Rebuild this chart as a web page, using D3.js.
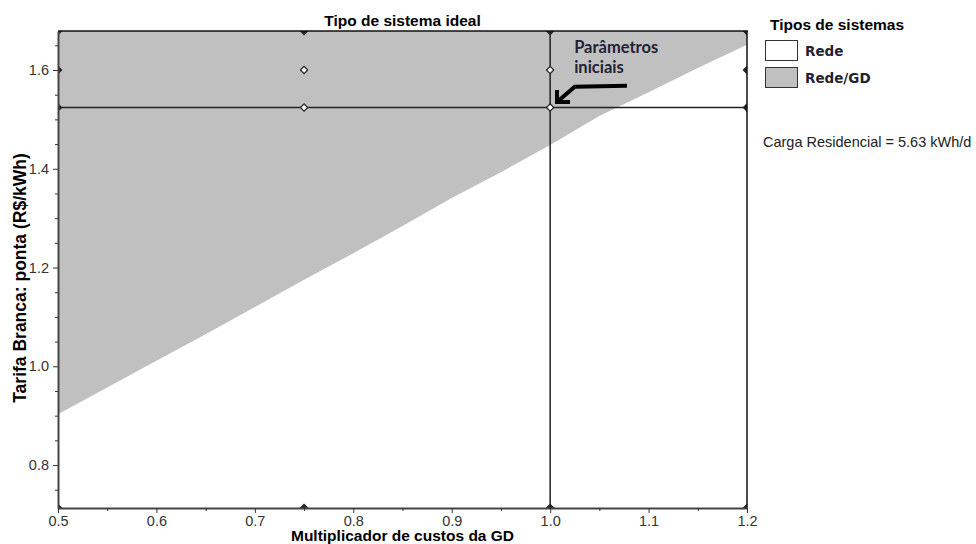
<!DOCTYPE html>
<html>
<head>
<meta charset="utf-8">
<script src="https://cdn.jsdelivr.net/npm/d3@7"></script>
<style>
  body { margin: 0; background: #fff; }
  svg { display: block; }
</style>
</head>
<body>
<div id="chart"></div>
<script>
// boundary between "Rede" (below) and "Rede/GD" (above)
const boundaryX = [0.50, 0.55, 0.60, 0.65, 0.70, 0.75, 0.80, 0.85, 0.90, 0.95, 1.00, 1.05, 1.10, 1.15, 1.20];
const boundaryY = [0.903, 0.957, 1.011, 1.065, 1.120, 1.175, 1.229, 1.284, 1.341, 1.393, 1.448, 1.507, 1.555, 1.604, 1.651];

// sampled parameter grid (diamond markers)
const gridX = [0.5, 0.75, 1.0, 1.2];
const gridY = [0.713, 1.524, 1.6, 1.679];

const xDomain = [0.5, 1.2];
const yDomain = [0.713, 1.679];
const xTicks = [0.5, 0.6, 0.7, 0.8, 0.9, 1.0, 1.1, 1.2];
const xMinor = [0.55, 0.65, 0.75, 0.85, 0.95, 1.05, 1.15];
const yTicks = [0.8, 1.0, 1.2, 1.4, 1.6];
const yMinor = [0.75, 0.85, 0.9, 0.95, 1.05, 1.1, 1.15, 1.25, 1.3, 1.35, 1.45, 1.5, 1.55, 1.65];

const initial = { x: 1.0, y: 1.524 };
const systems = ["Rede", "Rede/GD"];
const systemColors = ["#ffffff", "#c0c0c0"];

// arrow for "Parâmetros iniciais"
const arrowPts = [[1.078, 1.568], [1.025, 1.566], [1.007, 1.535]];

const W = 976, H = 544;
const mLeft = 58, mRight = 747, mTop = 31, mBottom = 508;

const svg = d3.select("#chart").append("svg")
  .attr("width", W)
  .attr("height", H)
  .style("font-family", "'Liberation Sans', Arial, sans-serif");

const x = d3.scaleLinear().domain(xDomain).range([mLeft, mRight]);
const y = d3.scaleLinear().domain(yDomain).range([mBottom, mTop]);

svg.append("clipPath").attr("id", "plot")
  .append("rect")
  .attr("x", mLeft).attr("y", mTop)
  .attr("width", mRight - mLeft).attr("height", mBottom - mTop);

const plot = svg.append("g").attr("clip-path", "url(#plot)");

// gray Rede/GD region above the boundary
const boundary = boundaryX.map((v, i) => ({ x: v, y: boundaryY[i] }));
plot.append("path")
  .datum(boundary)
  .attr("fill", systemColors[1])
  .attr("d", d3.area()
    .x(d => x(d.x))
    .y0(mTop - 2)
    .y1(d => y(d.y)));

// initial-parameter lines
plot.append("line")
  .attr("x1", x(initial.x)).attr("x2", x(initial.x))
  .attr("y1", mTop).attr("y2", mBottom)
  .attr("stroke", "#222").attr("stroke-width", 1.5);
plot.append("line")
  .attr("x1", mLeft).attr("x2", mRight)
  .attr("y1", y(initial.y)).attr("y2", y(initial.y))
  .attr("stroke", "#222").attr("stroke-width", 1.5);

// diamonds (the ones on the frame look solid)
const onEdge = d => d.x === xDomain[0] || d.x === xDomain[1] || d.y === yDomain[0] || d.y === yDomain[1];
const cells = gridY.flatMap(gy => gridX.map(gx => ({ x: gx, y: gy })));
plot.selectAll(".mark")
  .data(cells)
  .enter()
  .append("path")
  .attr("class", "mark")
  .attr("transform", d => `translate(${x(d.x)},${y(d.y)}) rotate(45)`)
  .attr("d", d3.symbol(d3.symbolSquare, 26)())
  .attr("fill", d => onEdge(d) ? "#222" : "#fff")
  .attr("stroke", "#222")
  .attr("stroke-width", 1.2);

// frame
svg.append("line").attr("x1", mLeft).attr("x2", mRight + 1).attr("y1", mTop).attr("y2", mTop)
  .attr("stroke", "#111").attr("stroke-width", 1.5);
svg.append("line").attr("x1", mRight).attr("x2", mRight).attr("y1", mTop).attr("y2", mBottom)
  .attr("stroke", "#111").attr("stroke-width", 1.5);

// axes
const xAxis = svg.append("g")
  .attr("transform", `translate(0,${mBottom})`)
  .call(d3.axisBottom(x).tickValues(xTicks).tickSize(5).tickSizeOuter(0).tickFormat(d3.format(".1f")));
svg.append("g")
  .attr("transform", `translate(0,${mBottom})`)
  .call(d3.axisBottom(x).tickValues(xMinor).tickSize(3).tickSizeOuter(0).tickFormat(""))
  .call(g => g.select(".domain").remove());

const yAxis = svg.append("g")
  .attr("transform", `translate(${mLeft},0)`)
  .call(d3.axisLeft(y).tickValues(yTicks).tickSize(5).tickSizeOuter(0).tickFormat(d3.format(".1f")));
svg.append("g")
  .attr("transform", `translate(${mLeft},0)`)
  .call(d3.axisLeft(y).tickValues(yMinor).tickSize(3).tickSizeOuter(0).tickFormat(""))
  .call(g => g.select(".domain").remove());

svg.selectAll(".domain").attr("stroke", "#444").attr("stroke-width", 2);
svg.selectAll(".tick line").attr("stroke", "#333");
xAxis.selectAll("text").attr("dy", "0.75em").attr("y", 7);
svg.selectAll(".tick text")
  .attr("font-size", 14.5)
  .attr("font-family", "'Liberation Sans', Arial, sans-serif")
  .attr("fill", "#333");
yAxis.selectAll("text").attr("x", -9);

// titles
svg.append("text")
  .attr("x", (mLeft + mRight) / 2).attr("y", 26)
  .attr("text-anchor", "middle")
  .attr("font-weight", "bold").attr("font-size", 15.5)
  .text("Tipo de sistema ideal");

svg.append("text")
  .attr("x", (mLeft + mRight) / 2).attr("y", 541)
  .attr("text-anchor", "middle")
  .attr("font-weight", "bold").attr("font-size", 15.5)
  .text("Multiplicador de custos da GD");

svg.append("text")
  .attr("transform", "translate(26,278) rotate(-90)")
  .attr("text-anchor", "middle")
  .attr("font-weight", "bold").attr("font-size", 17.5)
  .text("Tarifa Branca: ponta (R$/kWh)");

// annotation
svg.append("path")
  .datum(arrowPts)
  .attr("d", d3.line().x(d => x(d[0])).y(d => y(d[1])))
  .attr("fill", "none")
  .attr("stroke", "#000")
  .attr("stroke-width", 4);
const tip = arrowPts[arrowPts.length - 1];
svg.append("path")
  .attr("d", `M${x(tip[0])},${y(tip[1]) - 12}V${y(tip[1])}H${x(tip[0]) + 13}`)
  .attr("fill", "none")
  .attr("stroke", "#000")
  .attr("stroke-width", 4);

const note = svg.append("text")
  .attr("font-family", "Lato, 'Open Sans', sans-serif")
  .attr("font-weight", "bold")
  .attr("font-size", 16.5)
  .attr("fill", "#1f2235");
note.append("tspan").attr("x", x(1.0244)).attr("y", y(1.634)).text("Parâmetros");
note.append("tspan").attr("x", x(1.0244)).attr("y", y(1.634) + 20).text("iniciais");

// legend
const legend = svg.append("g").attr("transform", "translate(765,0)");
legend.append("text")
  .attr("x", 5).attr("y", 30)
  .attr("font-weight", "bold").attr("font-size", 15.5)
  .text("Tipos de sistemas");

const items = legend.selectAll(".item")
  .data(systems)
  .enter()
  .append("g")
  .attr("class", "item")
  .attr("transform", (d, i) => `translate(0,${40 + i * 27})`);
items.append("rect")
  .attr("x", 0.5).attr("y", 0.5)
  .attr("width", 32).attr("height", 20)
  .attr("fill", (d, i) => systemColors[i])
  .attr("stroke", "#333");
items.append("text")
  .attr("x", 40).attr("y", 16)
  .attr("font-family", "'DejaVu Sans', Verdana, sans-serif")
  .attr("font-weight", "bold").attr("font-size", 13.5)
  .attr("fill", "#1f2235")
  .text(d => d);

svg.append("text")
  .attr("x", 763).attr("y", 147)
  .attr("font-size", 14.5)
  .attr("fill", "#222")
  .text("Carga Residencial = 5.63 kWh/d");
</script>
</body>
</html>
